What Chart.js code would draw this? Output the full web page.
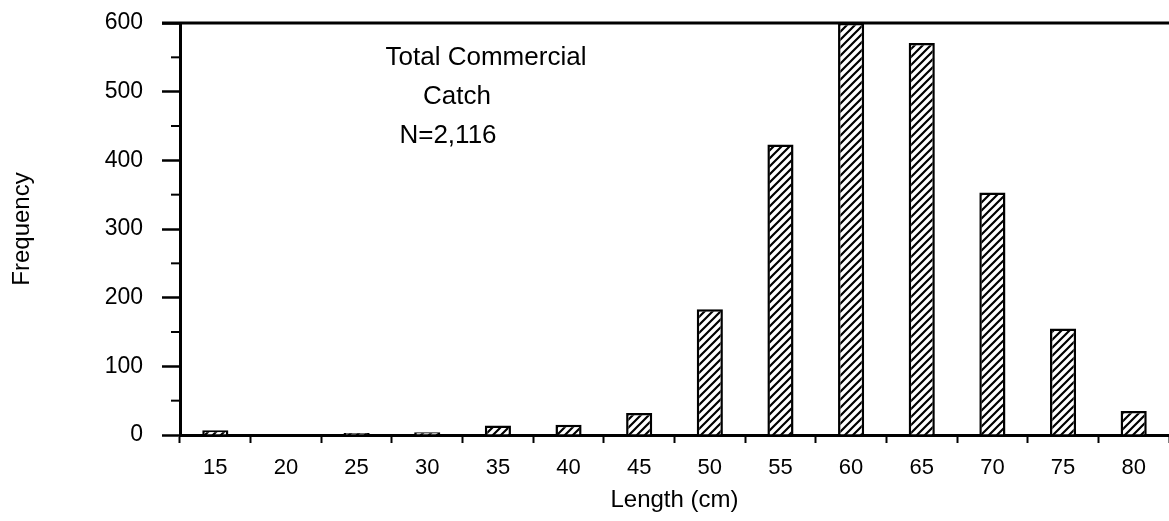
<!DOCTYPE html>
<html>
<head>
<meta charset="utf-8">
<script src="https://cdn.jsdelivr.net/npm/chart.js@4/dist/chart.umd.min.js"></script>
<style>
  html, body { margin: 0; padding: 0; background: #fff; overflow: hidden; }
  #wrap { width: 1169px; height: 521px; }
</style>
</head>
<body>
<div id="wrap"><canvas id="catch-chart"></canvas></div>
<script>
// length classes (cm) and counts
const lengths = ['15', '20', '25', '30', '35', '40', '45', '50', '55', '60', '65', '70', '75', '80'];
const frequency = [7, 1, 3, 4, 14, 15, 32, 183, 423, 600, 571, 353, 155, 35];
const yTicks = [0, 100, 200, 300, 400, 500, 600];
const noteLines = ['Total Commercial', 'Catch', 'N=2,116'];

const FONT = "'Liberation Sans', Arial, Helvetica, sans-serif";

// diagonal hatch fill like the original
function hatch() {
  const c = document.createElement('canvas');
  c.width = 8; c.height = 8;
  const g = c.getContext('2d');
  g.fillStyle = '#fff';
  g.fillRect(0, 0, 8, 8);
  g.strokeStyle = '#000';
  g.lineWidth = 2.2;
  g.beginPath();
  g.moveTo(-2, 10); g.lineTo(10, -2);
  g.moveTo(-2, 2); g.lineTo(2, -2);
  g.moveTo(6, 10); g.lineTo(10, 6);
  g.stroke();
  return g.createPattern(c, 'repeat');
}

// minor y ticks, top frame line and the text note
const noteX = [306, 277, 268];
const extras = {
  id: 'extras',
  afterDraw(chart) {
    const {ctx, chartArea, scales} = chart;
    const y = scales.y;
    ctx.save();
    ctx.strokeStyle = '#000';
    ctx.lineWidth = 2;
    for (let v = 50; v < 600; v += 100) {
      const py = y.getPixelForValue(v);
      ctx.beginPath();
      ctx.moveTo(chartArea.left - 9, py);
      ctx.lineTo(chartArea.left, py);
      ctx.stroke();
    }
    ctx.lineWidth = 3;
    ctx.beginPath();
    ctx.moveTo(chartArea.left - 18, chartArea.top);
    ctx.lineTo(chartArea.right, chartArea.top);
    ctx.stroke();

    ctx.fillStyle = '#000';
    ctx.font = '26px ' + FONT;
    ctx.textAlign = 'center';
    ctx.textBaseline = 'middle';
    noteLines.forEach((t, i) => {
      ctx.fillText(t, chartArea.left + noteX[i], chartArea.top + 35 + i * 39);
    });
    ctx.restore();
  }
};

const ctx = document.getElementById('catch-chart');
const chart = new Chart(ctx, {
  type: 'bar',
  data: {
    labels: lengths,
    datasets: [{
      label: 'Frequency',
      data: frequency,
      backgroundColor: hatch(),
      borderColor: '#000',
      borderWidth: 2.5,
      borderSkipped: 'bottom',
      categoryPercentage: 1,
      barPercentage: 0.37
    }]
  },
  options: {
    responsive: true,
    maintainAspectRatio: false,
    animation: false,
    layout: { padding: { left: 6, right: 0, top: 23, bottom: 0 } },
    plugins: {
      legend: { display: false },
      tooltip: { enabled: false }
    },
    scales: {
      x: {
        offset: true,
        grid: {
          offset: true,
          drawOnChartArea: false,
          drawTicks: true,
          tickLength: 8,
          tickWidth: 2,
          tickColor: '#000'
        },
        border: { color: '#000', width: 3 },
        ticks: {
          color: '#000',
          font: { family: FONT, size: 22 },
          padding: 12,
          maxRotation: 0
        },
        title: {
          display: true,
          text: 'Length (cm)',
          color: '#000',
          font: { family: FONT, size: 24 },
          padding: { top: 0, bottom: 6 }
        },
        afterFit(scale) { scale.height = 86; }
      },
      y: {
        min: 0,
        max: 600,
        afterBuildTicks(scale) { scale.ticks = yTicks.map(v => ({ value: v })); },
        grid: {
          drawOnChartArea: false,
          tickLength: 18,
          tickWidth: 2.5,
          tickColor: '#000'
        },
        border: { color: '#000', width: 3 },
        ticks: {
          color: '#000',
          font: { family: FONT, size: 23 },
          padding: 19
        },
        title: {
          display: true,
          text: 'Frequency',
          color: '#000',
          font: { family: FONT, size: 24 },
          padding: { top: 2, bottom: 0 }
        },
        afterFit(scale) {
          scale.width = 174;
          scale.paddingTop = 0;
          scale.paddingBottom = 0;
        }
      }
    }
  },
  plugins: [extras]
});
</script>
</body>
</html>
